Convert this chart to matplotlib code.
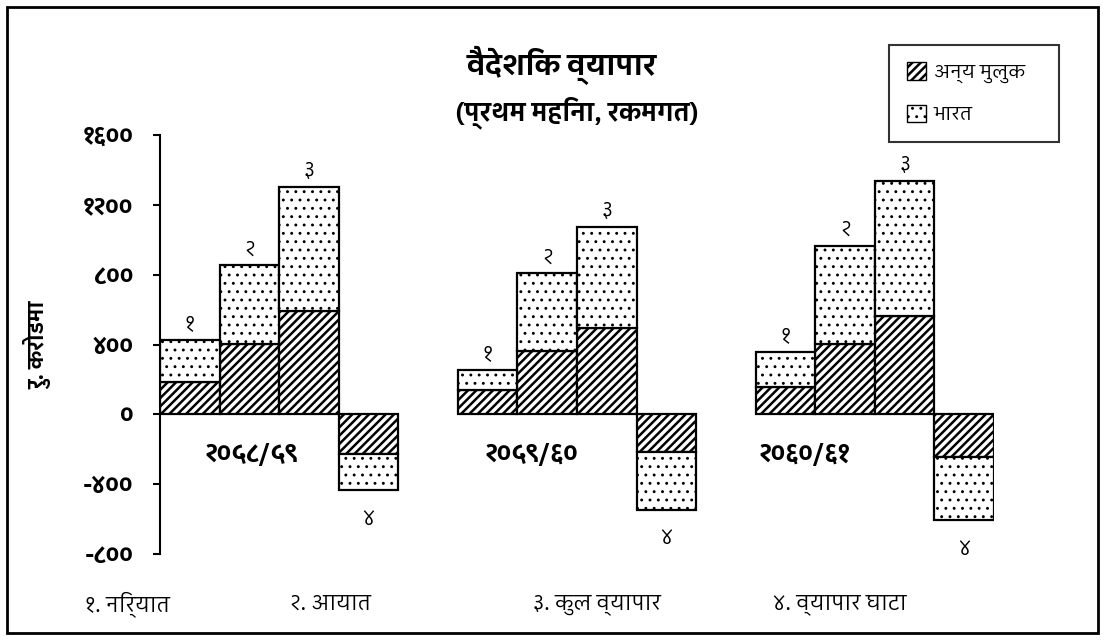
import numpy as np
import matplotlib
matplotlib.use('Agg')
import matplotlib.pyplot as plt
from matplotlib import font_manager
from matplotlib.ft2font import FT2Font
from matplotlib.patches import Patch, Rectangle

# data (rs. crore, first month)
years = ['२०५८/५९', '२०५९/६०', '२०६०/६१']
bar_labels = ['१', '२', '३', '४']
tick_vals = [-800, -400, 0, 400, 800, 1200, 1600]
tick_text = ['-८००', '-४००', '०', '४००', '८००', '१२००', '१६००']
other_2058 = [185, 405, 590, -230]
india_2058 = [243, 448, 713, -205]
other_2059 = [142, 361, 495, -216]
india_2059 = [114, 449, 579, -331]
other_2060 = [157, 403, 562, -245]
india_2060 = [200, 564, 774, -363]
other = [other_2058, other_2059, other_2060]
india = [india_2058, india_2059, india_2060]
notes = ['१. निर्यात', '२. आयात', '३. कुल व्यापार', '४. व्यापार घाटा']


# find a font that has devanagari glyphs, prefer one with a bold face
def devanagari_fonts():
    found = {}
    for f in font_manager.fontManager.ttflist:
        try:
            ft = FT2Font(f.fname)
            if ft.get_char_index(0x0915) and ft.get_char_index(0x0966):
                w = f.weight if isinstance(f.weight, int) else 400
                found.setdefault(f.name, set()).add(w)
        except Exception:
            pass
    names = sorted(found, key=lambda n: (max(found[n]) < 600, 'Devanagari' not in n))
    return names


# hatch width is picked up when the patch is drawn, so wrap draw
def hatch_lw(artist, lw):
    if hasattr(artist, 'set_hatch_linewidth'):
        artist.set_hatch_linewidth(lw)
    orig = artist.draw

    def draw(renderer):
        with plt.rc_context({'hatch.linewidth': lw}):
            orig(renderer)
    artist.draw = draw


deva = devanagari_fonts()
fam = ([deva[0]] if deva else []) + ['DejaVu Sans']
plt.rcParams['font.family'] = fam
plt.rcParams['hatch.color'] = 'black'

fig = plt.figure(figsize=(11.06, 6.41), dpi=100)
W, H = 1106, 641
ax = fig.add_axes([160 / W, (H - 554) / H, 834 / W, 419 / H])

for g in range(3):
    x = np.arange(4) + g * 5
    o = np.array(other[g])
    ind = np.array(india[g])
    b1 = ax.bar(x, o, width=1.0, color='white', edgecolor='black', linewidth=1.6, hatch='////')
    b2 = ax.bar(x, ind, bottom=o, width=1.0, color='white', edgecolor='black', linewidth=1.6, hatch='..')
    for p in b1:
        hatch_lw(p, 1.8)
    for p in b2:
        hatch_lw(p, 0.9)
    for i in range(4):
        tot = o[i] + ind[i]
        if tot >= 0:
            ax.annotate(bar_labels[i], (x[i], tot), xytext=(0, 11), textcoords='offset points',
                        ha='center', va='center', fontsize=15)
        else:
            ax.annotate(bar_labels[i], (x[i], tot), xytext=(0, -21), textcoords='offset points',
                        ha='center', va='center', fontsize=15)

year_x = [0.25, 4.95, 9.55]
for g in range(3):
    ax.text(year_x[g], -235, years[g], ha='left', va='center', fontsize=18, fontweight='bold')

ax.set_xlim(-0.5, 13.5)
ax.set_ylim(-800, 1600)
ax.set_yticks(tick_vals)
ax.set_yticklabels(tick_text, fontsize=17, fontweight='bold')
ax.set_xticks([])
for s in ['top', 'right', 'bottom']:
    ax.spines[s].set_visible(False)
ax.spines['left'].set_linewidth(1.5)
ax.spines['left'].set_bounds(-800, 1600)
ax.tick_params(axis='y', direction='out', length=5, width=1.5, pad=14)
ax.patch.set_visible(False)

fig.text(37 / W, 1 - 345 / H, 'रु. करोडमा', rotation=90, ha='center', va='center',
         fontsize=15, fontweight='bold')
fig.text(562 / W, 1 - 65 / H, 'वैदेशिक व्यापार', ha='center', va='center',
         fontsize=21, fontweight='bold')
fig.text(577 / W, 1 - 113 / H, '(प्रथम महिना, रकमगत)', ha='center', va='center',
         fontsize=18, fontweight='bold')

note_x = [85, 290, 533, 773]
for t, nx in zip(notes, note_x):
    fig.text(nx / W, 1 - 604 / H, t, ha='left', va='center', fontsize=15.5)

handles = [Patch(facecolor='white', edgecolor='black', hatch='////', label='अन्य मुलुक'),
           Patch(facecolor='white', edgecolor='black', hatch='..', label='भारत')]
leg = fig.legend(handles=handles, loc='upper left',
                 bbox_to_anchor=(889 / W, 1 - 134 / H, 170 / W, 89 / H),
                 mode='expand', frameon=True, fancybox=False, edgecolor='black', fontsize=14,
                 handlelength=1.0, handleheight=1.0, handletextpad=0.4,
                 labelspacing=1.1, borderpad=0.9, borderaxespad=0)
leg.get_frame().set_linewidth(1.5)
hatch_lw(leg.get_patches()[0], 1.8)
hatch_lw(leg.get_patches()[1], 0.9)

fig.patches.append(Rectangle((7 / W, 8 / H), 1091 / W, 626 / H, transform=fig.transFigure,
                             fill=False, edgecolor='black', linewidth=2))

fig.savefig('out.png', dpi=100)
